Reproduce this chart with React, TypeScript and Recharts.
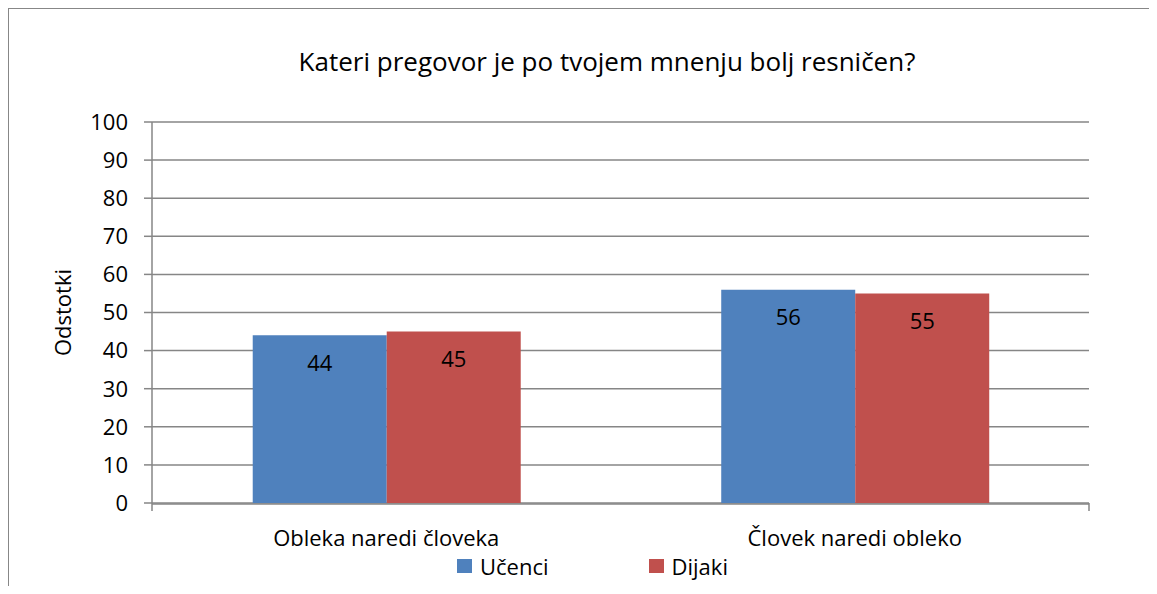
import React from 'react';
import { BarChart, Bar, XAxis, YAxis, CartesianGrid, Legend, LabelList } from 'recharts';

const categories = ['Obleka naredi človeka', 'Človek naredi obleko'];
const ucenci = [44, 56];
const dijaki = [45, 55];
const seriesNames = ['Učenci', 'Dijaki'];
const seriesKeys = ['ucenci', 'dijaki'];
const seriesColors = ['#4F81BD', '#C0504D'];
const yTicks = [0, 10, 20, 30, 40, 50, 60, 70, 80, 90, 100];
const edgeTicks = [0, 1, 2];
const title = 'Kateri pregovor je po tvojem mnenju bolj resničen?';
const yLabel = 'Odstotki';

const data = categories.map((c, i) => ({ name: c, ucenci: ucenci[i], dijaki: dijaki[i] }));

const FONT = '"Open Sans", Lato, sans-serif';
const GRID = '#868686';
const FS = 22;

const EmptyTick = () => <g />;

const renderLegend = () => (
  <div
    style={{
      display: 'flex',
      justifyContent: 'center',
      alignItems: 'center',
      height: 26,
      paddingLeft: 88,
      paddingBottom: 7,
      fontFamily: FONT,
      fontSize: FS,
      color: '#000',
    }}
  >
    {seriesNames.map((n, i) => (
      <div key={n} style={{ display: 'flex', alignItems: 'center', marginLeft: i ? 100 : 0 }}>
        <span style={{ display: 'inline-block', width: 15, height: 14, background: seriesColors[i], marginRight: 8 }} />
        <span>{n}</span>
      </div>
    ))}
  </div>
);

export default function App() {
  return (
    <div style={{ position: 'relative', width: 1149, height: 578, fontFamily: FONT }}>
      <div
        style={{
          position: 'absolute',
          left: 0,
          top: 0,
          width: 1149,
          height: 586,
          borderTop: '1px solid #878787',
          borderLeft: '1px solid #878787',
          boxSizing: 'border-box',
        }}
      />
      <div
        style={{
          position: 'absolute',
          left: 0,
          top: 36,
          width: 1198,
          textAlign: 'center',
          fontSize: 26,
          lineHeight: '34px',
          color: '#000',
        }}
      >
        {title}
      </div>
      <BarChart
        width={1149}
        height={578}
        data={data}
        margin={{ top: 114, right: 68, left: 0, bottom: 0 }}
        barCategoryGap="21.5%"
        barGap={0}
      >
        <CartesianGrid xAxisId="cat" vertical={false} stroke={GRID} strokeWidth={1.5} />
        <XAxis
          xAxisId="cat"
          dataKey="name"
          height={49}
          tickLine={false}
          tickSize={8}
          tickMargin={18}
          axisLine={{ stroke: GRID, strokeWidth: 1.5 }}
          tick={{ fill: '#000', fontSize: FS, fontFamily: FONT }}
          interval={0}
        />
        <XAxis
          xAxisId="a"
          type="number"
          domain={[0, categories.length]}
          ticks={edgeTicks}
          interval={0}
          allowDataOverflow
          tick={EmptyTick}
          axisLine={false}
          tickSize={8}
          height={1}
          tickLine={{ stroke: GRID, strokeWidth: 1.5 }}
        />
        <YAxis
          width={144}
          domain={[0, 100]}
          ticks={yTicks}
          interval={0}
          tickSize={8}
          tickMargin={16}
          tickLine={{ stroke: GRID, strokeWidth: 1.5 }}
          axisLine={{ stroke: GRID, strokeWidth: 1.5 }}
          tick={{ fill: '#000', fontSize: FS, fontFamily: FONT }}
          label={{
            value: yLabel,
            angle: -90,
            position: 'insideLeft',
            offset: 55,
            style: { textAnchor: 'middle' },
            fill: '#000',
            fontSize: FS,
            fontFamily: FONT,
          }}
        />
        <Legend verticalAlign="bottom" content={renderLegend} />
        {seriesKeys.map((k, i) => (
          <Bar key={k} xAxisId="cat" dataKey={k} name={seriesNames[i]} fill={seriesColors[i]} isAnimationActive={false}>
            <LabelList dataKey={k} position="insideTop" offset={20} fill="#000" fontSize={FS} fontFamily={FONT} />
          </Bar>
        ))}
      </BarChart>
    </div>
  );
}
